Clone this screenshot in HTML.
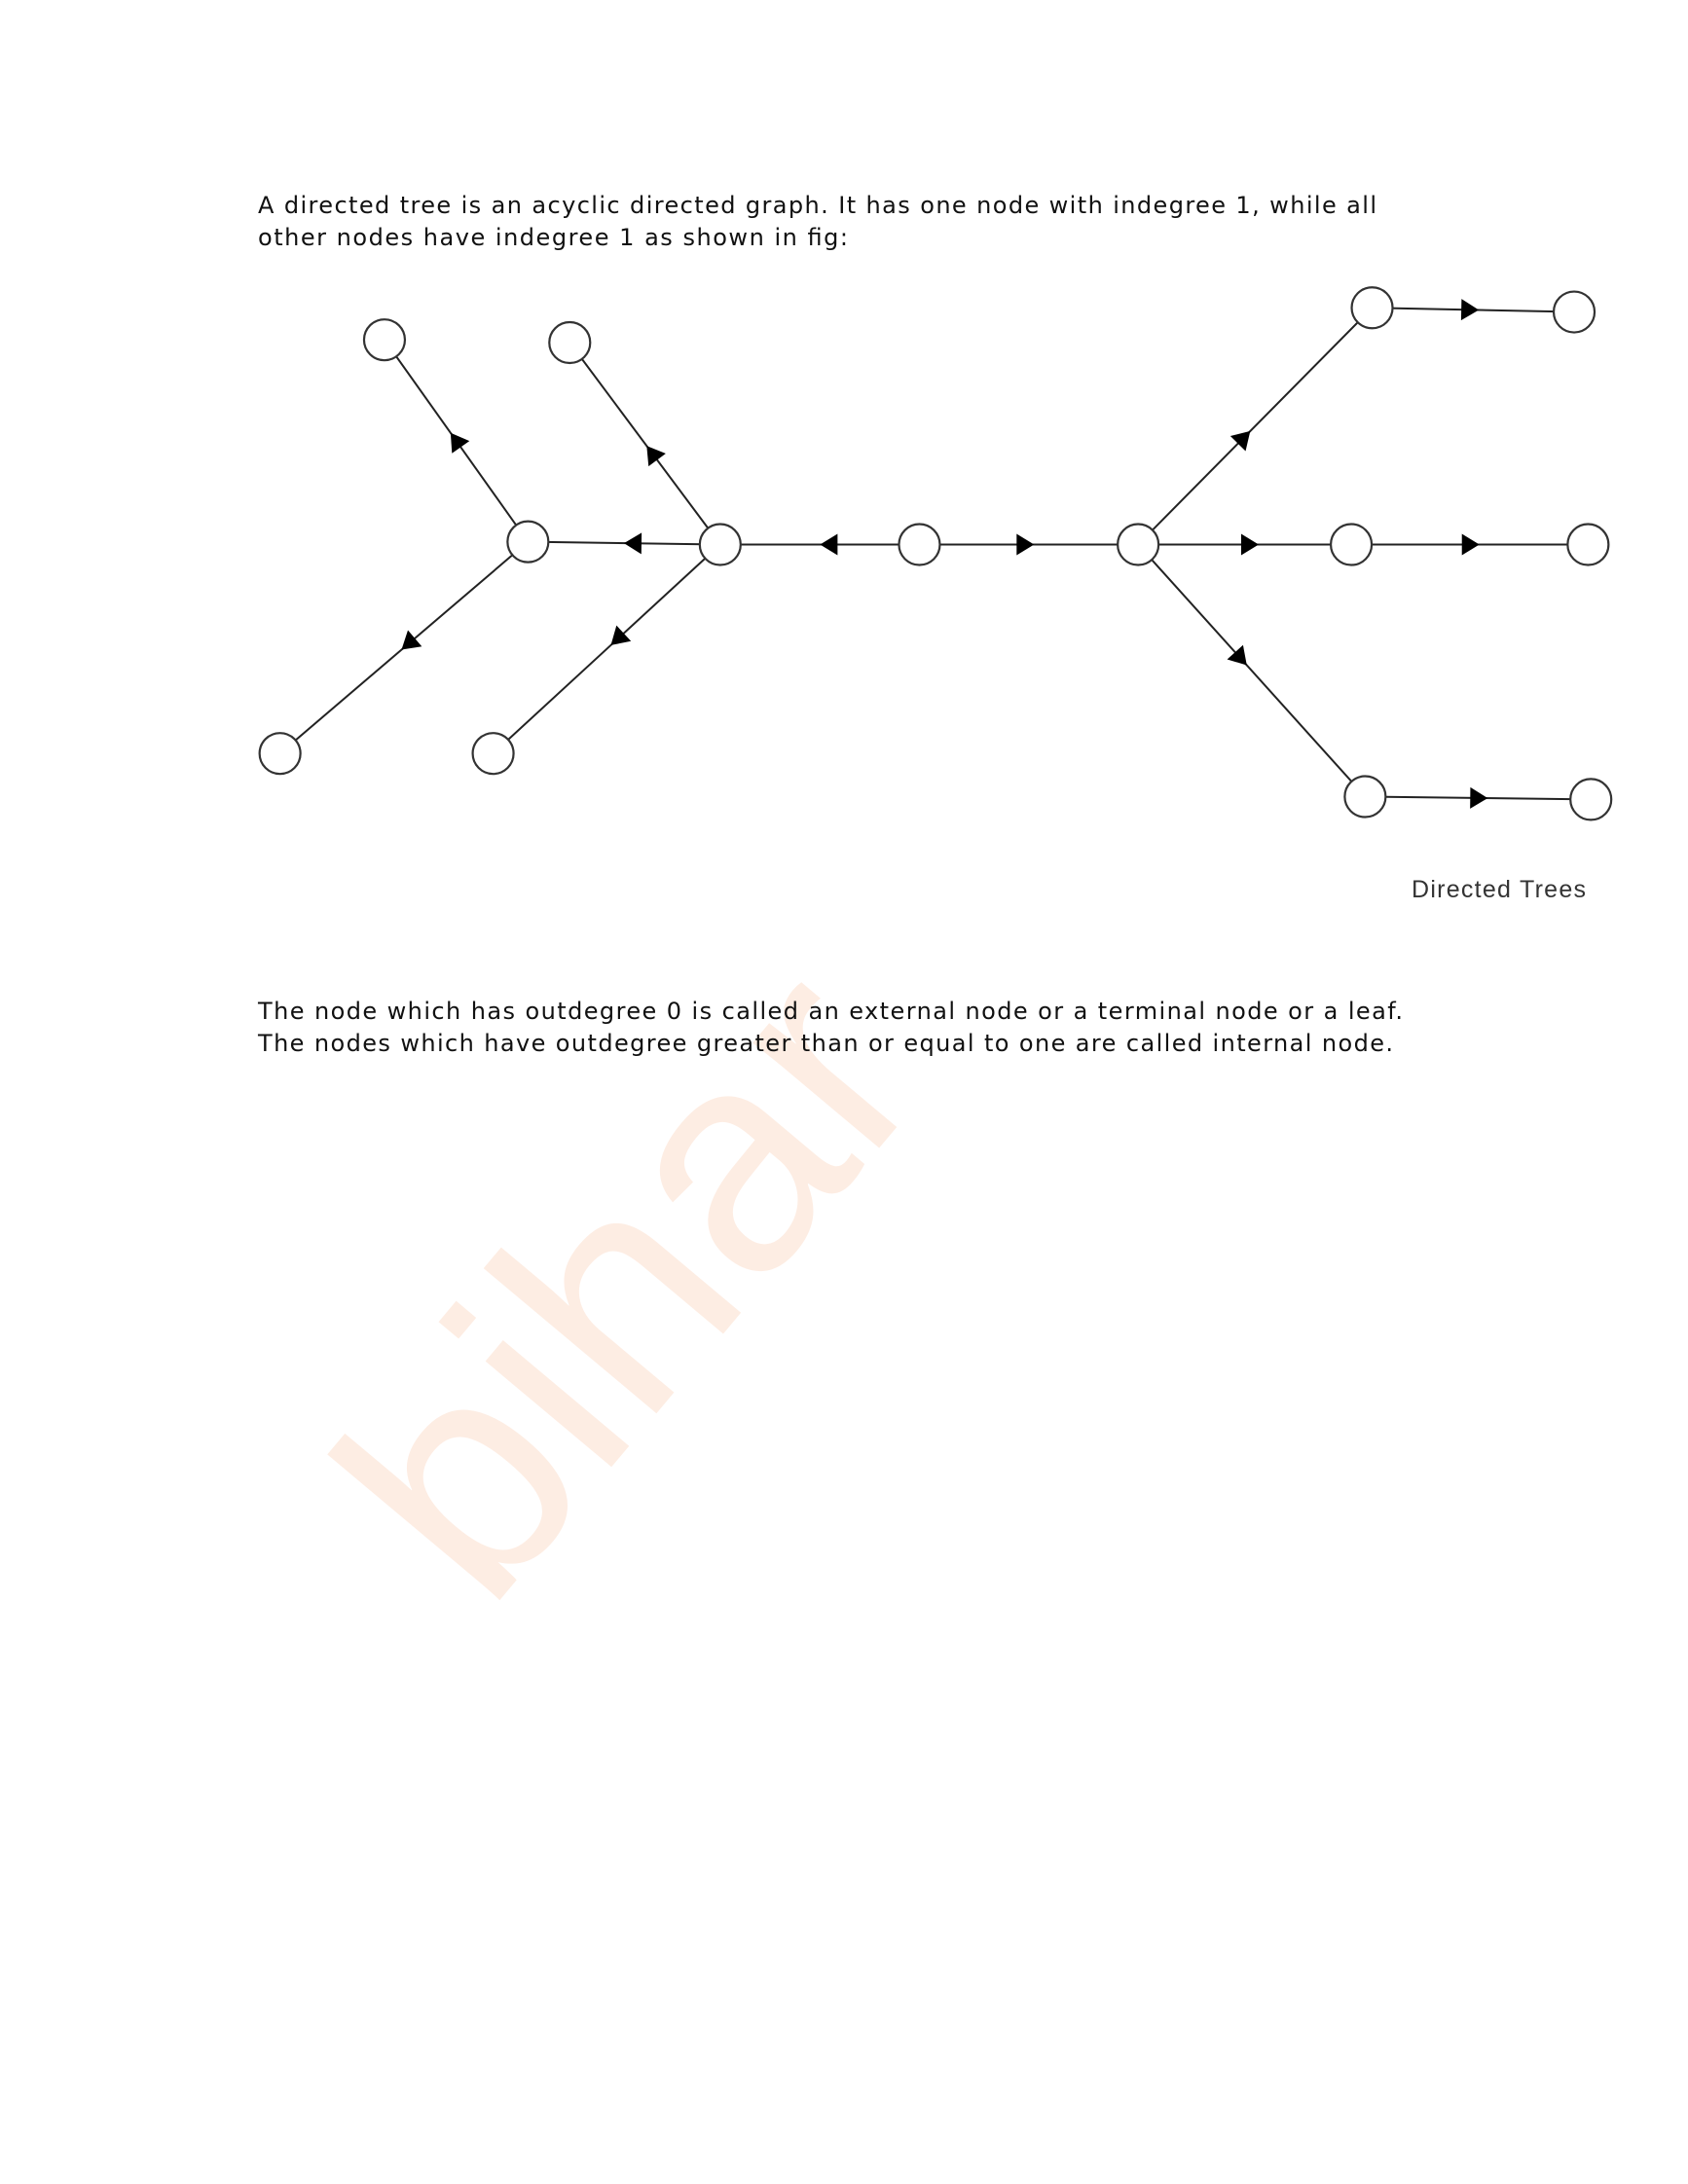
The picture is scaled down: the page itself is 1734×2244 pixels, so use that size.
<!DOCTYPE html>
<html><head><meta charset="utf-8"><style>
html,body{margin:0;padding:0;background:#fff;}
svg{display:block;}
</style></head><body>
<svg id="page" width="1734" height="2244" viewBox="0 0 1734 2244" xmlns="http://www.w3.org/2000/svg">
<g transform="translate(500,1660) rotate(-50)">
<text x="0" y="0" font-family="Liberation Sans, sans-serif" font-size="320" fill="#fdeadf" opacity="0.85">bihar</text>
</g>
<g font-family="DejaVu Sans, sans-serif" font-size="24" fill="#111">
<text x="265" y="219" textLength="1149">A directed tree is an acyclic directed graph. It has one node with indegree 1, while all</text>
<text x="265" y="252" textLength="606">other nodes have indegree 1 as shown in fig:</text>
</g>
<g id="graph"></g>
<text x="1450" y="922" font-family="Liberation Sans, sans-serif" font-size="25" fill="#333" textLength="179">Directed Trees</text>
<g font-family="DejaVu Sans, sans-serif" font-size="24" fill="#111">
<text x="265" y="1047" textLength="1176">The node which has outdegree 0 is called an external node or a terminal node or a leaf.</text>
<text x="265" y="1080" textLength="1166">The nodes which have outdegree greater than or equal to one are called internal node.</text>
</g>
</svg>
<script>
// node positions (display units, scaled by S)
const nodeX = [276,409,379,517,660,817,201,354,985,1130,970,1140,980,1142];
const nodeY = [244,246,389,391,391,391,541,541,221,224,391,391,572,574];
// edges: from -> to (arrow points toward "to"), arrow position fraction along edge
const edgeFrom = [2,2,3,3,3,4,4,5,5,5,8,10,12];
const edgeTo   = [0,6,2,1,7,3,5,8,10,12,9,11,13];
const arrowPos = [0.5,0.48,0.45,0.45,0.45,0.45,0.48,0.45,0.52,0.45,0.48,0.5,0.5];
const S = 1.431, R = 21;
const NS = 'http://www.w3.org/2000/svg';
const g = document.getElementById('graph');
function sx(v){return v*S;}
function sy(v){return v*S;}
for (let i=0;i<edgeFrom.length;i++){
  const a=edgeFrom[i], b=edgeTo[i];
  const x1=sx(nodeX[a]), y1=sy(nodeY[a]), x2=sx(nodeX[b]), y2=sy(nodeY[b]);
  const ln=document.createElementNS(NS,'line');
  ln.setAttribute('x1',x1);ln.setAttribute('y1',y1);ln.setAttribute('x2',x2);ln.setAttribute('y2',y2);
  ln.setAttribute('stroke','#222');ln.setAttribute('stroke-width','2');
  
  
  g.appendChild(ln);
  const t=arrowPos[i];
  const mx=x1+(x2-x1)*t, my=y1+(y2-y1)*t;
  const ang=Math.atan2(y2-y1,x2-x1)*180/Math.PI;
  const ar=document.createElementNS(NS,'polygon');
  ar.setAttribute('points','10,0 -8,-11 -8,11');
  ar.setAttribute('fill','#000');
  ar.setAttribute('transform','translate('+mx+','+my+') rotate('+ang+')');
  
  
  g.appendChild(ar);
}
for (let i=0;i<nodeX.length;i++){
  const c=document.createElementNS(NS,'circle');
  c.setAttribute('cx',sx(nodeX[i]));c.setAttribute('cy',sy(nodeY[i]));c.setAttribute('r',R);
  c.setAttribute('fill','#fff');c.setAttribute('stroke','#333');c.setAttribute('stroke-width','2.2');
  
  
  g.appendChild(c);
}
</script>
</body></html>
